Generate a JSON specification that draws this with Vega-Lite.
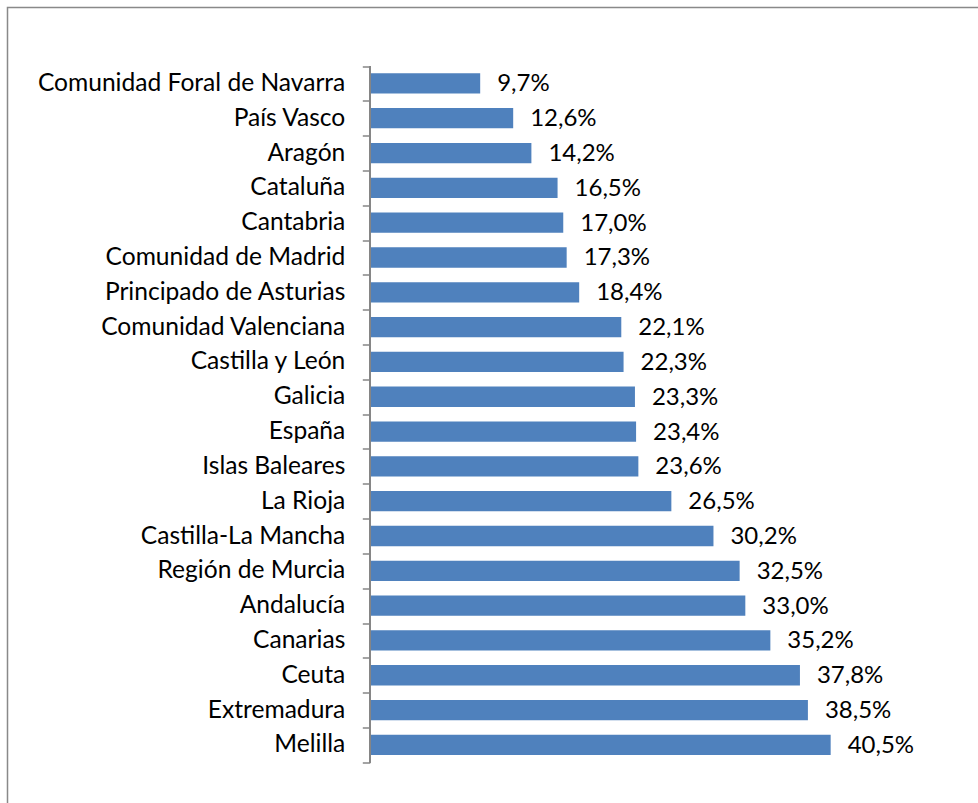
{
  "$schema": "https://vega.github.io/schema/vega-lite/v6.json",
  "width": 1000,
  "height": 813.3,
  "autosize": "none",
  "padding": {"left": 7.5, "top": 7.5, "right": 0, "bottom": 0},
  "background": "white",
  "config": {
    "view": {"stroke": "#898989", "strokeWidth": 1.5},
    "locale": {"number": {"decimal": ",", "thousands": ".", "grouping": [3], "currency": ["", " €"]}},
    "font": "Lato"
  },
  "data": {
    "values": [
      {"region": "Comunidad Foral de Navarra", "value": 0.097},
      {"region": "País Vasco", "value": 0.126},
      {"region": "Aragón", "value": 0.142},
      {"region": "Cataluña", "value": 0.165},
      {"region": "Cantabria", "value": 0.170},
      {"region": "Comunidad de Madrid", "value": 0.173},
      {"region": "Principado de Asturias", "value": 0.184},
      {"region": "Comunidad Valenciana", "value": 0.221},
      {"region": "Castilla y León", "value": 0.223},
      {"region": "Galicia", "value": 0.233},
      {"region": "España", "value": 0.234},
      {"region": "Islas Baleares", "value": 0.236},
      {"region": "La Rioja", "value": 0.265},
      {"region": "Castilla-La Mancha", "value": 0.302},
      {"region": "Región de Murcia", "value": 0.325},
      {"region": "Andalucía", "value": 0.330},
      {"region": "Canarias", "value": 0.352},
      {"region": "Ceuta", "value": 0.378},
      {"region": "Extremadura", "value": 0.385},
      {"region": "Melilla", "value": 0.405}
    ]
  },
  "encoding": {
    "y": {
      "field": "region",
      "type": "nominal",
      "sort": null,
      "scale": {"paddingInner": 0, "paddingOuter": 0, "range": [58.5, 754.8]},
      "axis": {
        "title": null,
        "offset": -362.3,
        "domain": false,
        "tickBand": "extent",
        "tickSize": 7.5,
        "tickColor": "#868686",
        "tickWidth": 1.5,
        "labelPadding": 17.5,
        "labelFont": "Lato",
        "labelFontSize": 24.6,
        "labelColor": "black",
        "labelLimit": 0
      }
    }
  },
  "layer": [
    {
      "mark": {"type": "bar", "color": "#4F81BD", "height": {"band": 0.583}},
      "encoding": {
        "x": {"field": "value", "type": "quantitative", "scale": {"domain": [-0.3184, 0.5604], "nice": false}, "axis": null}
      }
    },
    {
      "mark": {"type": "text", "align": "left", "baseline": "middle", "dx": 17, "dy": 1, "fontSize": 24, "font": "Lato", "color": "black"},
      "encoding": {
        "x": {"field": "value", "type": "quantitative"},
        "text": {"field": "value", "type": "quantitative", "format": ".1%"}
      }
    },
    {
      "mark": {"type": "rule", "color": "#868686", "strokeWidth": 1.5},
      "encoding": {
        "x": {"datum": 0, "type": "quantitative"},
        "y": {"datum": "Comunidad Foral de Navarra", "bandPosition": 0},
        "y2": {"datum": "Melilla", "bandPosition": 1}
      }
    }
  ]
}
